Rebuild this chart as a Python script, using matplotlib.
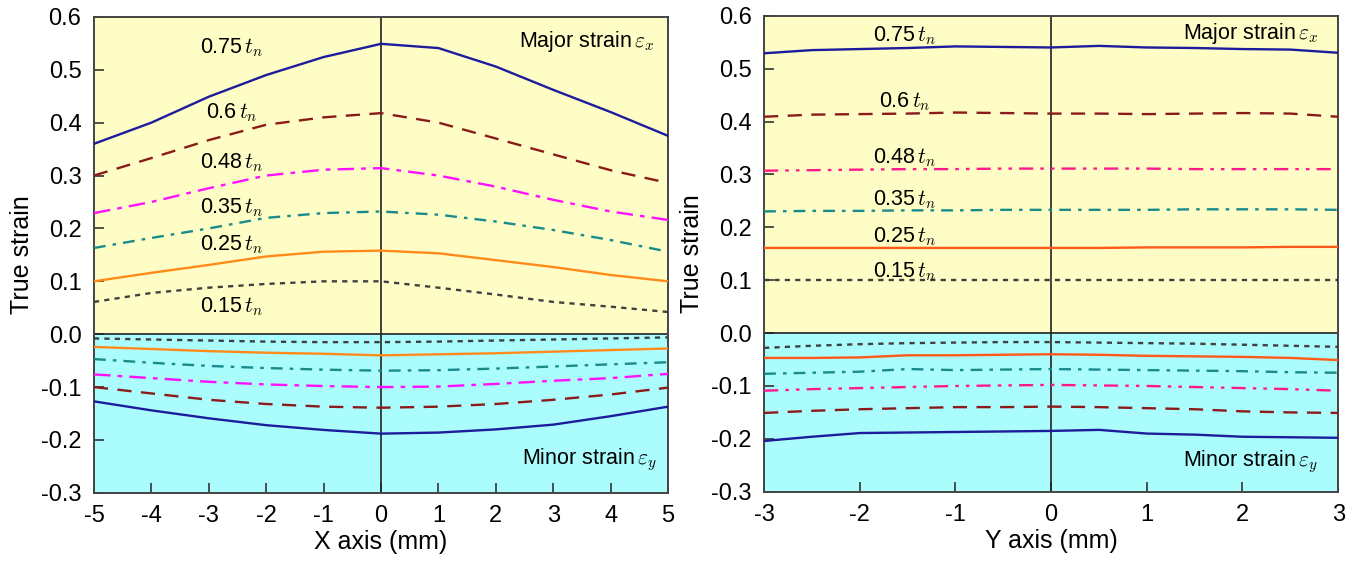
import matplotlib
matplotlib.use("Agg")
import matplotlib.pyplot as plt

plt.rcParams["font.family"] = ["Liberation Sans", "DejaVu Sans"]
plt.rcParams["mathtext.fontset"] = "cm"
plt.rcParams["axes.unicode_minus"] = False

# ---------------- data: X axis (left panel) ----------------
x_left = [-5, -4, -3, -2, -1, 0, 1, 2, 3, 4, 5]
levels = ["0.75", "0.6", "0.48", "0.35", "0.25", "0.15"]

major_x = {
    "0.75": [0.360, 0.400, 0.449, 0.490, 0.524, 0.549, 0.541, 0.506, 0.462, 0.420, 0.375],
    "0.6":  [0.300, 0.333, 0.367, 0.396, 0.410, 0.418, 0.400, 0.370, 0.340, 0.310, 0.286],
    "0.48": [0.229, 0.250, 0.276, 0.300, 0.311, 0.314, 0.300, 0.279, 0.254, 0.232, 0.216],
    "0.35": [0.163, 0.182, 0.200, 0.220, 0.229, 0.232, 0.226, 0.213, 0.197, 0.178, 0.156],
    "0.25": [0.100, 0.116, 0.131, 0.147, 0.156, 0.158, 0.153, 0.140, 0.127, 0.112, 0.100],
    "0.15": [0.061, 0.078, 0.088, 0.095, 0.100, 0.100, 0.088, 0.075, 0.061, 0.052, 0.042],
}
minor_x = {
    "0.75": [-0.127, -0.144, -0.159, -0.172, -0.181, -0.188, -0.186, -0.180, -0.171, -0.155, -0.137],
    "0.6":  [-0.100, -0.112, -0.124, -0.132, -0.137, -0.139, -0.137, -0.132, -0.124, -0.114, -0.101],
    "0.48": [-0.076, -0.083, -0.090, -0.095, -0.098, -0.100, -0.099, -0.094, -0.088, -0.083, -0.075],
    "0.35": [-0.047, -0.054, -0.060, -0.064, -0.067, -0.069, -0.068, -0.065, -0.061, -0.057, -0.053],
    "0.25": [-0.024, -0.028, -0.032, -0.035, -0.037, -0.040, -0.038, -0.036, -0.033, -0.030, -0.027],
    "0.15": [-0.008, -0.010, -0.012, -0.014, -0.015, -0.015, -0.014, -0.012, -0.010, -0.008, -0.006],
}

# ---------------- data: Y axis (right panel) ----------------
x_right = [-3, -2.5, -2, -1.5, -1, -0.5, 0, 0.5, 1, 1.5, 2, 2.5, 3]
major_y = {
    "0.75": [0.529, 0.535, 0.537, 0.539, 0.542, 0.541, 0.540, 0.543, 0.540, 0.539, 0.537, 0.536, 0.530],
    "0.6":  [0.409, 0.413, 0.414, 0.415, 0.417, 0.416, 0.415, 0.415, 0.414, 0.415, 0.416, 0.415, 0.409],
    "0.48": [0.307, 0.308, 0.309, 0.310, 0.310, 0.311, 0.311, 0.311, 0.311, 0.310, 0.310, 0.310, 0.310],
    "0.35": [0.230, 0.231, 0.231, 0.232, 0.232, 0.233, 0.233, 0.233, 0.233, 0.234, 0.234, 0.234, 0.233],
    "0.25": [0.161, 0.161, 0.161, 0.161, 0.161, 0.161, 0.161, 0.161, 0.162, 0.162, 0.162, 0.163, 0.163],
    "0.15": [0.101, 0.101, 0.101, 0.101, 0.101, 0.101, 0.101, 0.101, 0.101, 0.101, 0.101, 0.101, 0.101],
}
minor_y = {
    "0.75": [-0.204, -0.196, -0.189, -0.188, -0.187, -0.186, -0.185, -0.183, -0.190, -0.192, -0.196, -0.197, -0.198],
    "0.6":  [-0.151, -0.147, -0.144, -0.142, -0.140, -0.140, -0.139, -0.140, -0.142, -0.144, -0.148, -0.150, -0.151],
    "0.48": [-0.109, -0.106, -0.104, -0.102, -0.100, -0.099, -0.098, -0.099, -0.100, -0.102, -0.104, -0.106, -0.109],
    "0.35": [-0.077, -0.075, -0.073, -0.068, -0.070, -0.069, -0.068, -0.069, -0.070, -0.071, -0.072, -0.074, -0.075],
    "0.25": [-0.047, -0.047, -0.046, -0.042, -0.042, -0.041, -0.040, -0.041, -0.043, -0.044, -0.045, -0.047, -0.051],
    "0.15": [-0.028, -0.024, -0.021, -0.019, -0.018, -0.017, -0.017, -0.018, -0.019, -0.020, -0.022, -0.024, -0.026],
}

# ---------------- styles ----------------
style_left = {
    "0.75": dict(color="#1c1c9c", ls="-"),
    "0.6":  dict(color="#8b1a1a", ls=(0, (6, 4))),
    "0.48": dict(color="#ff10ff", ls=(0, (7, 3, 2, 3))),
    "0.35": dict(color="#1a8a8a", ls=(0, (5, 3, 1.5, 3))),
    "0.25": dict(color="#ff8a1a", ls="-"),
    "0.15": dict(color="#404040", ls=(0, (2.2, 2.2))),
}
style_right = dict(style_left)
style_right["0.48"] = dict(color="#ff1a8c", ls=(0, (6, 3, 1.5, 3, 1.5, 3)))
style_right["0.25"] = dict(color="#ff5a1a", ls="-")

YELLOW = "#fffdc6"
CYAN = "#aafcfd"
TICK_FS = 17
LABEL_FS = 18
CURVE_FS = 15.5

fig = plt.figure(figsize=(13.62, 5.62), dpi=100)
ax1 = fig.add_axes([0.069, 0.123, 0.4215, 0.847])
ax2 = fig.add_axes([0.561, 0.125, 0.4215, 0.847])


def draw(ax, xs, major, minor, styles, xlim, xlabel):
    ax.axhspan(0, 0.6, color=YELLOW, zorder=0)
    ax.axhspan(-0.3, 0, color=CYAN, zorder=0)
    for lev in levels:
        st = styles[lev]
        ax.plot(xs, major[lev], color=st["color"], linestyle=st["ls"], lw=1.7, zorder=3)
        ax.plot(xs, minor[lev], color=st["color"], linestyle=st["ls"], lw=1.7, zorder=3)
    ax.axhline(0, color="#222222", lw=1.2, zorder=2)
    ax.axvline(0, color="#222222", lw=1.2, zorder=2)
    ax.set_xlim(*xlim)
    ax.set_ylim(-0.3, 0.6)
    ax.set_xticks(range(xlim[0], xlim[1] + 1))
    ax.set_yticks([-0.3, -0.2, -0.1, 0.0, 0.1, 0.2, 0.3, 0.4, 0.5, 0.6])
    ax.set_yticklabels(["-0.3", "-0.2", "-0.1", "0.0", "0.1", "0.2", "0.3", "0.4", "0.5", "0.6"])
    ax.tick_params(direction="in", length=7, width=1.2, labelsize=TICK_FS, pad=9, color="#333333")
    for sp in ax.spines.values():
        sp.set_color("#444444")
        sp.set_linewidth(1.4)
    ax.set_xlabel(xlabel, fontsize=LABEL_FS, labelpad=2)
    ax.set_ylabel("True strain", fontsize=LABEL_FS, labelpad=5)


draw(ax1, x_left, major_x, minor_x, style_left, (-5, 5), "X axis (mm)")
draw(ax2, x_right, major_y, minor_y, style_right, (-3, 3), "Y axis (mm)")

# curve labels
lab_left = {"0.75": 0.541, "0.6": 0.418, "0.48": 0.324, "0.35": 0.240, "0.25": 0.169, "0.15": 0.052}
lab_right = {"0.75": 0.562, "0.6": 0.437, "0.48": 0.332, "0.35": 0.252, "0.25": 0.182, "0.15": 0.116}
for lev in levels:
    ax1.text(-2.6, lab_left[lev], lev + r"$\,t_n$", fontsize=CURVE_FS, ha="center", va="center", zorder=4)
    ax2.text(-1.53, lab_right[lev], lev + r"$\,t_n$", fontsize=CURVE_FS, ha="center", va="center", zorder=4)

ax1.text(4.77, 0.553, r"Major strain$\,\varepsilon_x$", fontsize=CURVE_FS, ha="right", va="center")
ax1.text(4.8, -0.237, r"Minor strain$\,\varepsilon_y$", fontsize=CURVE_FS, ha="right", va="center")
ax2.text(2.79, 0.566, r"Major strain$\,\varepsilon_x$", fontsize=CURVE_FS, ha="right", va="center")
ax2.text(2.79, -0.243, r"Minor strain$\,\varepsilon_y$", fontsize=CURVE_FS, ha="right", va="center")

fig.savefig("out.png", dpi=100)
